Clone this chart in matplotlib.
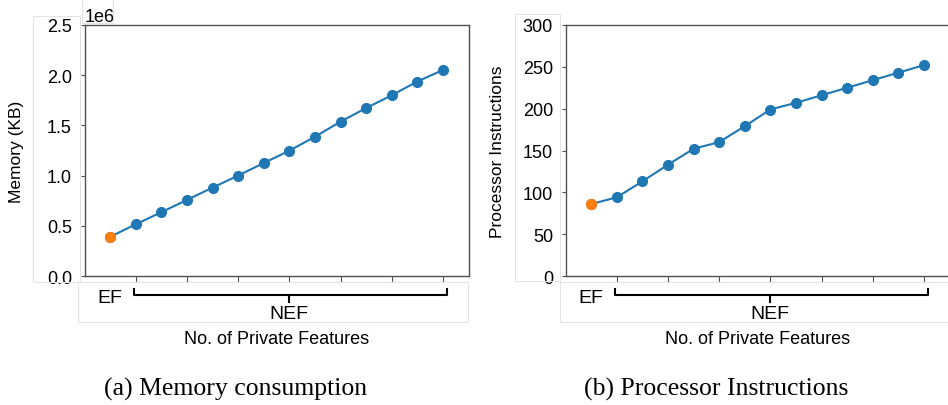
import matplotlib
matplotlib.use("Agg")
import matplotlib.pyplot as plt
from matplotlib.patches import Rectangle

plt.rcParams["font.family"] = ["Liberation Sans", "DejaVu Sans"]

# ---------------------------------------------------------------- data
feature_counts = [1, 2, 3, 4, 5, 6, 7, 8, 9, 10, 11, 12, 13, 14]
memory_kb = [390000, 515000, 635000, 758000, 880000, 1000000, 1125000,
             1248000, 1387000, 1537000, 1673000, 1800000, 1937000, 2052000]
processor_instr = [86, 94, 113, 133, 152, 160, 179, 199, 207, 216, 225,
                   234, 243, 252]
tick_positions = [2, 4, 6, 8, 10, 12, 14]

C_LINE = "#1f77b4"
C_EF = "#ff7f0e"
C_SPINE = "#505050"
C_FRAME = "#e4e4e4"

W, H = 948, 406
fig = plt.figure(figsize=(W / 100, H / 100), dpi=100)


def px(x0, y0, x1, y1):
    """pixel box (top-left origin) -> figure fraction rect"""
    return [x0 / W, 1 - y1 / H, (x1 - x0) / W, (y1 - y0) / H]


def frame(x0, y0, x1, y1):
    fig.patches.append(Rectangle((x0 / W, 1 - y1 / H), (x1 - x0) / W,
                                 (y1 - y0) / H, transform=fig.transFigure,
                                 fill=False, ec=C_FRAME, lw=0.8))


def panel(rect, values, ylim, yticks, ylabel, ylabel_x):
    ax = fig.add_axes(rect)
    ax.plot(feature_counts, values, color=C_LINE, lw=1.5, marker="o",
            ms=7, zorder=2)
    ax.plot(feature_counts[:1], values[:1], "o", color=C_EF, ms=7, zorder=3)
    ax.set_xlim(0, 15)
    ax.set_ylim(*ylim)
    ax.set_yticks(yticks)
    ax.set_xticks(tick_positions)
    ax.set_xticklabels([])
    ax.tick_params(axis="y", length=3, width=0.8, pad=6, labelsize=13,
                   color=C_SPINE)
    ax.tick_params(axis="x", length=4, width=0.8, color=C_SPINE)
    for s in ax.spines.values():
        s.set_color(C_SPINE)
        s.set_linewidth(1.0)
    ax.set_ylabel(ylabel, fontsize=12.5)
    ax.yaxis.set_label_coords(ylabel_x, 0.5)

    # EF / NEF group labels under the axis
    tr = ax.get_xaxis_transform()
    kw = dict(transform=tr, clip_on=False, color="black", lw=1.5)
    left, right, mid = 1.95, 14.15, 8.0
    y_top, y_bar, y_stub = -0.052, -0.076, -0.104
    ax.plot([left, left, right, right], [y_top, y_bar, y_bar, y_top], **kw)
    ax.plot([mid, mid], [y_bar, y_stub], **kw)
    ax.text(1.0, -0.086, "EF", transform=tr, ha="center", va="center",
            fontsize=14)
    ax.text(mid, -0.148, "NEF", transform=tr, ha="center", va="center",
            fontsize=14)
    ax.text(7.5, -0.248, "No. of Private Features", transform=tr,
            ha="center", va="center", fontsize=13)
    return ax


# ------------------------------------------------------- (a) memory
frame(33, 17, 80, 283)
frame(82, 0, 113, 24)
frame(78, 283, 468, 323)
ax1 = panel(px(84.5, 26, 468.5, 277), memory_kb, (0, 2.5e6),
            [0, 0.5e6, 1.0e6, 1.5e6, 2.0e6, 2.5e6], "Memory (KB)", -0.158)
ax1.ticklabel_format(axis="y", style="sci", scilimits=(0, 0))
ax1.yaxis.get_offset_text().set_fontsize(13)

# ------------------------------------------- (b) processor instructions
frame(515, 15, 560, 282)
frame(560, 283, 949, 323)
ax2 = panel(px(565.5, 26, 949.5, 277), processor_instr, (0, 300),
            [0, 50, 100, 150, 200, 250, 300], "Processor Instructions", -0.157)

# captions
cap = dict(ha="center", va="center", fontsize=18.5,
           family=["Liberation Serif", "DejaVu Serif"])
fig.text(236 / W, 1 - 389 / H, "(a) Memory consumption", **cap)
fig.text(716 / W, 1 - 389 / H, "(b) Processor Instructions", **cap)

fig.savefig("out.png", dpi=100, facecolor="white")
